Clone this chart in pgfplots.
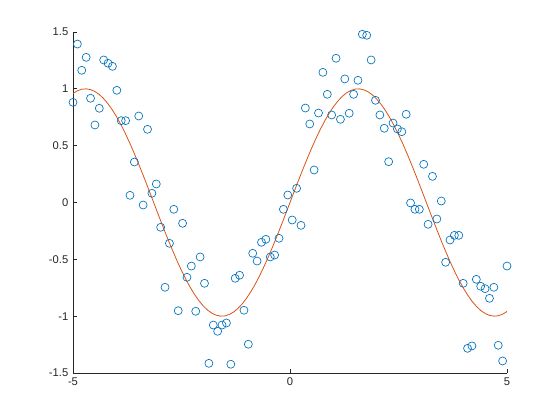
\documentclass[border=0pt]{standalone}
\usepackage{fontspec}
\setmainfont{Liberation Sans}
\usepackage{pgfplots}
\pgfplotsset{compat=1.18}
\definecolor{mblue}{rgb}{0,0.447,0.741}
\definecolor{morange}{rgb}{0.85,0.325,0.098}
\definecolor{axgray}{rgb}{0.15,0.15,0.15}
\begin{document}
\begin{tikzpicture}
\begin{axis}[
  scale only axis,
  width=325.5pt, height=255.75pt,
  xmin=-5, xmax=5, ymin=-1.5, ymax=1.5,
  axis x line*=bottom, axis y line*=left,
  axis line style={axgray, line width=0.5pt},
  xtick={-5,0,5},
  ytick={-1.5,-1,-0.5,0,0.5,1,1.5},
  yticklabels={-1.5,-1,-0.5,0,0.5,1,1.5},
  xticklabels={-5,0,5},
  tick align=inside,
  major tick length=3.2pt,
  tick style={axgray, line width=0.5pt},
  ticklabel style={font=\fontsize{8.4}{10}\selectfont, text=axgray},
  /pgf/number format/assume math mode=true,
  clip=false,
]
\addplot[only marks, mark=o, mark size=3pt, mblue, mark options={line width=0.5pt}] coordinates {
(-5.000,0.881) (-4.899,1.394) (-4.798,1.163) (-4.697,1.277) (-4.596,0.917)
(-4.495,0.682) (-4.394,0.829) (-4.293,1.254) (-4.192,1.225) (-4.091,1.198)
(-3.990,0.987) (-3.889,0.720) (-3.788,0.720) (-3.687,0.063) (-3.586,0.356)
(-3.485,0.761) (-3.384,-0.022) (-3.283,0.644) (-3.182,0.081) (-3.081,0.163)
(-2.980,-0.218) (-2.879,-0.746) (-2.778,-0.359) (-2.677,-0.060) (-2.576,-0.952)
(-2.475,-0.183) (-2.374,-0.658) (-2.273,-0.559) (-2.172,-0.957) (-2.071,-0.479)
(-1.970,-0.711) (-1.869,-1.415) (-1.768,-1.078) (-1.667,-1.133) (-1.566,-1.078)
(-1.465,-1.060) (-1.364,-1.423) (-1.263,-0.667) (-1.162,-0.640) (-1.061,-0.948)
(-0.960,-1.247) (-0.859,-0.447) (-0.758,-0.515) (-0.657,-0.350) (-0.556,-0.324)
(-0.455,-0.479) (-0.354,-0.462) (-0.253,-0.315) (-0.152,-0.060) (-0.051,0.066)
(0.051,-0.154) (0.152,0.125) (0.253,-0.201) (0.354,0.831) (0.455,0.691)
(0.556,0.286) (0.657,0.787) (0.758,1.145) (0.859,0.952) (0.960,0.770)
(1.061,1.269) (1.162,0.732) (1.263,1.087) (1.364,0.785) (1.465,0.952)
(1.566,1.075) (1.667,1.480) (1.768,1.471) (1.869,1.254) (1.970,0.899)
(2.071,0.770) (2.172,0.653) (2.273,0.359) (2.374,0.699) (2.475,0.647)
(2.576,0.623) (2.677,0.776) (2.778,-0.004) (2.879,-0.060) (2.980,-0.060)
(3.081,0.336) (3.182,-0.192) (3.283,0.230) (3.384,-0.145) (3.485,0.013)
(3.586,-0.526) (3.687,-0.330) (3.788,-0.289) (3.889,-0.289) (3.990,-0.711)
(4.091,-1.283) (4.192,-1.262) (4.293,-0.676) (4.394,-0.737) (4.495,-0.758)
(4.596,-0.843) (4.697,-0.746) (4.798,-1.256) (4.899,-1.394) (5.000,-0.559)
};
\addplot[morange, line width=0.6pt, no marks] coordinates {
(-5.0,0.9589) (-4.9,0.9825) (-4.8,0.9962) (-4.7,0.9999) (-4.6,0.9937)
(-4.5,0.9775) (-4.4,0.9516) (-4.3,0.9162) (-4.2,0.8716) (-4.1,0.8183)
(-4.0,0.7568) (-3.9,0.6878) (-3.8,0.6119) (-3.7,0.5298) (-3.6,0.4425)
(-3.5,0.3508) (-3.4,0.2555) (-3.3,0.1577) (-3.2,0.0584) (-3.1,-0.0416)
(-3.0,-0.1411) (-2.9,-0.2392) (-2.8,-0.3350) (-2.7,-0.4274) (-2.6,-0.5155)
(-2.5,-0.5985) (-2.4,-0.6755) (-2.3,-0.7457) (-2.2,-0.8085) (-2.1,-0.8632)
(-2.0,-0.9093) (-1.9,-0.9463) (-1.8,-0.9738) (-1.7,-0.9917) (-1.6,-0.9996)
(-1.5,-0.9975) (-1.4,-0.9854) (-1.3,-0.9636) (-1.2,-0.9320) (-1.1,-0.8912)
(-1.0,-0.8415) (-0.9,-0.7833) (-0.8,-0.7174) (-0.7,-0.6442) (-0.6,-0.5646)
(-0.5,-0.4794) (-0.4,-0.3894) (-0.3,-0.2955) (-0.2,-0.1987) (-0.1,-0.0998)
(0.0,0.0)
(0.1,0.0998) (0.2,0.1987) (0.3,0.2955) (0.4,0.3894) (0.5,0.4794)
(0.6,0.5646) (0.7,0.6442) (0.8,0.7174) (0.9,0.7833) (1.0,0.8415)
(1.1,0.8912) (1.2,0.9320) (1.3,0.9636) (1.4,0.9854) (1.5,0.9975)
(1.6,0.9996) (1.7,0.9917) (1.8,0.9738) (1.9,0.9463) (2.0,0.9093)
(2.1,0.8632) (2.2,0.8085) (2.3,0.7457) (2.4,0.6755) (2.5,0.5985)
(2.6,0.5155) (2.7,0.4274) (2.8,0.3350) (2.9,0.2392) (3.0,0.1411)
(3.1,0.0416) (3.2,-0.0584) (3.3,-0.1577) (3.4,-0.2555) (3.5,-0.3508)
(3.6,-0.4425) (3.7,-0.5298) (3.8,-0.6119) (3.9,-0.6878) (4.0,-0.7568)
(4.1,-0.8183) (4.2,-0.8716) (4.3,-0.9162) (4.4,-0.9516) (4.5,-0.9775)
(4.6,-0.9937) (4.7,-0.9999) (4.8,-0.9962) (4.9,-0.9825) (5.0,-0.9589)
};
\end{axis}
\path[use as bounding box] ([xshift=-54.75pt,yshift=-35.25pt]current axis.south west) rectangle ([xshift=39.75pt,yshift=24pt]current axis.north east);
\end{tikzpicture}
\end{document}
